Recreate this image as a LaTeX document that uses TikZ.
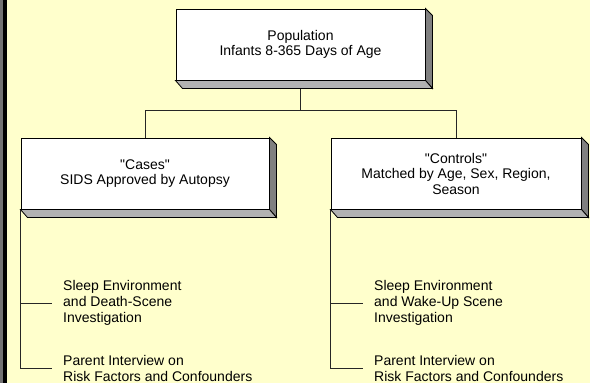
\documentclass[tikz,border=0pt]{standalone}
\usepackage{fontspec}
\setmainfont{Liberation Sans}[Ligatures=TeXOff]
\usetikzlibrary{positioning}

\definecolor{paper}{RGB}{255,255,204}
\definecolor{sidedark}{RGB}{128,128,128}
\definecolor{sidelight}{RGB}{178,178,178}

\tikzset{
  stagebox/.style={draw=black, line width=1pt, fill=white, inner sep=0pt,
    align=center, font=\fontsize{14}{15.5}\selectfont},
  item/.style={anchor=west, align=left, inner xsep=11.5pt, inner ysep=0pt,
    font=\fontsize{14}{16}\selectfont},
  link/.style={line width=1pt, draw=black!85}
}

% raised edge on the right and bottom of a box
\newcommand{\bevel}[1]{%
  \filldraw[fill=sidedark, line width=0.8pt]
    (#1.north east) -- ([shift={(7,7)}]#1.north east)
    -- ([shift={(7,8)}]#1.south east) -- (#1.south east) -- cycle;
  \filldraw[fill=sidelight, line width=0.8pt]
    (#1.south west) -- ([shift={(7,8)}]#1.south west)
    -- ([shift={(7,8)}]#1.south east) -- (#1.south east) -- cycle;
}

\begin{document}
\begin{tikzpicture}[x=1pt, y=-1pt]
  \useasboundingbox (0,0) rectangle (590,383);
  \fill[paper] (0,0) rectangle (590,383);
  \fill[black!55] (0,0) rectangle (3,383);
  \fill[black] (3,0) rectangle (7,383);

  % boxes
  \node[stagebox, minimum width=249pt, minimum height=71pt] (pop) at (300.5,44.5)
    {Population\\Infants 8-365 Days of Age};
  \node[stagebox, minimum width=248pt, minimum height=71pt] (cases) at (145,173.5)
    {"Cases"\\SIDS Approved by Autopsy};
  \node[stagebox, minimum width=250pt, minimum height=71pt] (ctrl) at (456,173.5)
    {"Controls"\\Matched by Age, Sex, Region,\\Season};

  \bevel{pop}
  \bevel{cases}
  \bevel{ctrl}

  % branches
  \coordinate (popfoot) at ([yshift=-8pt]pop.south);
  \coordinate (fork) at ([yshift=-22pt]popfoot);
  \draw[link] (popfoot) -- (fork);
  \draw[link] (fork) -| (cases.north);
  \draw[link] (fork) -| (ctrl.north);

  % data collected for each group
  \node[item] (sceneA) at (51.5,303) {Sleep Environment\\and Death-Scene\\Investigation};
  \node[item] (talkA) at (51.5,368) {Parent Interview on\\Risk Factors and Confounders};
  \node[item] (sceneB) at (362.5,303) {Sleep Environment\\and Wake-Up Scene\\Investigation};
  \node[item] (talkB) at (362.5,368) {Parent Interview on\\Risk Factors and Confounders};

  \draw[link] (cases.south west) |- (sceneA.west);
  \draw[link] (cases.south west) |- (talkA.west);
  \draw[link] (ctrl.south west) |- (sceneB.west);
  \draw[link] (ctrl.south west) |- (talkB.west);
\end{tikzpicture}
\end{document}
